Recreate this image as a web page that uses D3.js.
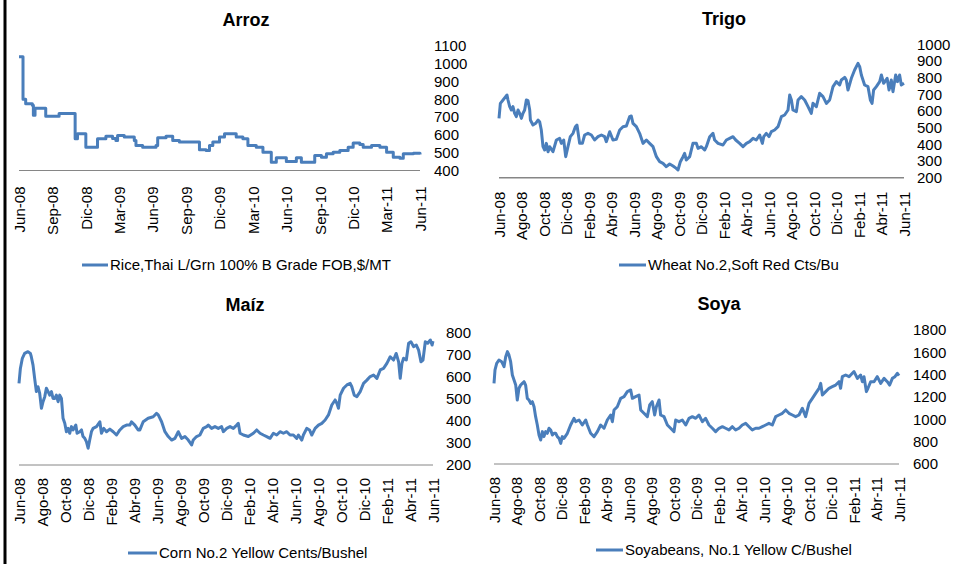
<!DOCTYPE html>
<html><head><meta charset="utf-8">
<script src="https://cdn.jsdelivr.net/npm/d3@7"></script>
<style>
html,body{margin:0;padding:0;background:#fff;}
svg{display:block;font-family:"Liberation Sans",Arial,sans-serif;}
</style></head>
<body>
<svg id="chart" width="953" height="564"></svg>
<script>
// ---- DATA (x = months since Jun-2008, y = price) ----
const titles = ["Arroz", "Trigo", "Maíz", "Soya"];
const legendLabels = [
  "Rice,Thai L/Grn 100% B Grade FOB,$/MT",
  "Wheat No.2,Soft Red Cts/Bu",
  "Corn No.2 Yellow Cents/Bushel",
  "Soyabeans, No.1 Yellow C/Bushel"
];
const quarterTicks = ["Jun-08","Sep-08","Dic-08","Mar-09","Jun-09","Sep-09","Dic-09","Mar-10","Jun-10","Sep-10","Dic-10","Mar-11","Jun-11"];
const bimonthTicks = ["Jun-08","Ago-08","Oct-08","Dic-08","Feb-09","Abr-09","Jun-09","Ago-09","Oct-09","Dic-09","Feb-10","Abr-10","Jun-10","Ago-10","Oct-10","Dic-10","Feb-11","Abr-11","Jun-11"];
const riceYTicks = [400,500,600,700,800,900,1000,1100];
const wheatYTicks = [200,300,400,500,600,700,800,900,1000];
const cornYTicks = [200,300,400,500,600,700,800];
const soyYTicks = [600,800,1000,1200,1400,1600,1800];

const riceData = [[0,1040],[0.36,800],[0.6,775],[1.2,767],[1.29,710],[1.44,750],[2.4,705],[3.6,720],[5.04,578],[5.25,607],[6.0,531],[7.05,578],[7.8,592],[8.4,580],[8.7,569],[8.85,597],[9.45,588],[10.35,569],[10.5,541],[11.1,531],[12.3,541],[12.45,584],[13.2,592],[13.8,569],[14.4,560],[16.2,516],[16.8,512],[17.1,540],[17.4,560],[18.0,588],[18.45,607],[19.5,588],[20.1,578],[20.55,541],[21.3,531],[21.9,503],[22.65,446],[23.1,471],[24.0,450],[24.9,471],[25.35,446],[26.55,484],[27.15,475],[27.6,494],[28.2,503],[28.8,512],[29.55,531],[30.0,554],[30.6,546],[30.9,531],[31.65,541],[32.4,531],[33.0,503],[33.6,475],[34.2,469],[34.5,494],[35.4,497],[36.0,490]];

const wheatData = [[0,556],[0.12,646],[0.36,666],[0.59,686],[0.71,696],[0.8,666],[0.95,626],[1.1,606],[1.24,626],[1.39,586],[1.54,566],[1.69,606],[1.84,586],[1.99,556],[2.13,586],[2.28,606],[2.43,666],[2.58,662],[2.73,606],[2.79,546],[3.02,516],[3.26,526],[3.47,546],[3.61,536],[3.76,486],[3.91,386],[4.06,366],[4.21,406],[4.36,356],[4.5,386],[4.8,356],[5.1,426],[5.39,436],[5.54,406],[5.75,426],[5.93,326],[6.13,386],[6.34,446],[6.58,466],[6.79,506],[6.93,516],[7.17,406],[7.41,406],[7.61,456],[7.91,466],[8.21,456],[8.5,426],[8.8,446],[9.1,456],[9.39,446],[9.54,416],[9.84,476],[10.13,426],[10.43,430],[10.73,486],[11.02,506],[11.32,510],[11.61,566],[11.76,570],[11.91,526],[12.21,506],[12.5,466],[12.8,406],[13.1,426],[13.39,406],[13.69,386],[13.99,326],[14.28,296],[14.58,286],[14.87,266],[15.17,282],[15.47,270],[15.76,256],[15.91,246],[16.12,296],[16.36,326],[16.5,346],[16.65,306],[16.95,326],[17.24,406],[17.54,406],[17.69,376],[17.99,386],[18.28,366],[18.43,386],[18.73,446],[19.02,466],[19.17,426],[19.47,406],[19.91,396],[20.21,426],[20.5,436],[20.8,446],[21.04,426],[21.39,406],[21.69,386],[21.99,406],[22.28,416],[22.58,436],[22.87,426],[23.17,456],[23.41,406],[23.53,446],[23.76,466],[24.0,446],[24.21,476],[24.5,486],[24.8,506],[25.1,566],[25.39,576],[25.69,606],[25.84,696],[25.99,666],[26.13,606],[26.43,596],[26.58,666],[26.87,686],[27.17,666],[27.47,626],[27.76,586],[27.91,646],[28.21,626],[28.5,706],[28.8,686],[29.1,646],[29.39,666],[29.69,746],[29.99,776],[30.28,756],[30.43,786],[30.73,802],[30.87,786],[31.02,726],[31.32,796],[31.61,846],[31.91,886],[32.06,866],[32.21,816],[32.5,756],[32.8,746],[33.01,666],[33.16,646],[33.3,726],[33.54,746],[33.84,776],[33.99,816],[34.19,766],[34.5,796],[34.67,726],[34.87,786],[35.02,716],[35.26,816],[35.41,776],[35.61,816],[35.76,756],[36.0,766]];

const cornData = [[0,570],[0.12,638],[0.29,684],[0.49,706],[0.78,714],[0.99,706],[1.07,691],[1.22,653],[1.36,593],[1.51,533],[1.65,555],[1.8,525],[1.95,457],[2.09,487],[2.24,510],[2.38,548],[2.53,533],[2.67,517],[2.82,533],[2.96,502],[3.11,502],[3.25,517],[3.4,487],[3.54,517],[3.69,502],[3.83,412],[3.98,389],[4.12,351],[4.27,366],[4.41,344],[4.56,374],[4.7,359],[4.94,381],[5.05,344],[5.28,351],[5.43,359],[5.57,329],[5.72,321],[5.86,306],[6.01,276],[6.15,313],[6.3,351],[6.44,366],[6.74,374],[7.03,396],[7.17,344],[7.37,366],[7.61,351],[7.9,363],[8.19,351],[8.48,336],[8.77,359],[9.06,374],[9.35,381],[9.64,381],[9.78,396],[10.07,381],[10.36,359],[10.51,359],[10.8,396],[11.23,412],[11.67,419],[11.96,434],[12.11,427],[12.4,396],[12.69,351],[12.98,329],[13.27,313],[13.56,321],[13.85,351],[14.14,321],[14.43,329],[14.72,313],[15.01,291],[15.15,313],[15.44,329],[15.73,336],[16.02,366],[16.32,374],[16.46,381],[16.75,366],[17.04,374],[17.33,366],[17.62,374],[17.77,351],[18.06,366],[18.35,374],[18.64,366],[18.93,381],[19.07,389],[19.22,344],[19.51,336],[19.94,329],[20.38,344],[20.67,359],[20.96,344],[21.25,336],[21.54,329],[21.83,321],[22.12,344],[22.41,336],[22.7,351],[22.99,344],[23.28,351],[23.57,336],[23.86,336],[24.15,321],[24.3,336],[24.59,313],[24.73,336],[25.02,366],[25.26,359],[25.46,336],[25.75,366],[26.04,381],[26.33,389],[26.62,404],[26.91,427],[27.2,472],[27.49,495],[27.64,480],[27.78,457],[27.93,517],[28.22,548],[28.51,563],[28.8,570],[28.94,555],[29.15,517],[29.38,510],[29.67,533],[29.96,570],[30.25,585],[30.54,601],[30.83,608],[31.12,593],[31.41,631],[31.7,638],[31.99,661],[32.28,691],[32.57,676],[32.8,706],[33.01,668],[33.15,593],[33.3,661],[33.44,684],[33.68,676],[33.88,752],[34.08,759],[34.31,737],[34.55,744],[34.75,721],[34.95,668],[35.13,676],[35.33,759],[35.54,752],[35.77,767],[35.92,744],[36.0,762]];

const soyData = [[0,1322],[0.09,1442],[0.24,1501],[0.44,1531],[0.68,1516],[0.89,1472],[1.04,1561],[1.19,1606],[1.33,1576],[1.48,1516],[1.63,1397],[1.78,1352],[1.93,1307],[2.07,1173],[2.22,1278],[2.37,1307],[2.52,1322],[2.67,1337],[2.81,1307],[2.96,1188],[3.11,1173],[3.26,1143],[3.41,1158],[3.56,1113],[3.7,1024],[3.85,949],[4.0,860],[4.15,815],[4.3,890],[4.44,845],[4.59,890],[4.74,875],[4.89,920],[5.04,905],[5.19,860],[5.33,875],[5.48,875],[5.63,845],[5.78,830],[5.93,785],[6.07,845],[6.22,830],[6.52,875],[6.81,949],[7.11,1009],[7.26,979],[7.56,994],[7.85,949],[8.15,994],[8.3,949],[8.59,875],[8.89,845],[9.19,890],[9.48,949],[9.78,920],[10.07,994],[10.37,1039],[10.52,979],[10.67,1084],[10.96,1113],[11.26,1188],[11.56,1203],[11.85,1248],[12.15,1263],[12.3,1188],[12.59,1203],[12.89,1218],[13.04,1084],[13.33,1054],[13.63,1024],[13.84,1128],[14.07,1158],[14.28,1039],[14.43,1113],[14.67,1173],[14.81,1039],[15.11,1024],[15.41,949],[15.7,920],[16.0,890],[16.15,994],[16.44,979],[16.74,994],[17.04,949],[17.33,1009],[17.63,1024],[17.93,1009],[18.22,1039],[18.52,979],[18.81,1009],[19.11,949],[19.41,920],[19.7,890],[20.0,920],[20.3,934],[20.59,920],[20.89,905],[21.19,934],[21.48,905],[21.78,920],[22.07,949],[22.37,964],[22.67,934],[22.96,905],[23.26,920],[23.56,920],[23.85,934],[24.15,949],[24.44,964],[24.74,949],[25.04,1024],[25.33,1039],[25.63,1054],[25.93,1084],[26.22,1054],[26.52,1039],[26.81,1024],[27.11,1039],[27.41,1099],[27.7,1024],[28.0,1143],[28.3,1188],[28.59,1233],[28.89,1278],[29.04,1322],[29.19,1218],[29.48,1248],[29.78,1278],[30.07,1292],[30.37,1307],[30.67,1337],[30.81,1278],[30.96,1382],[31.26,1397],[31.56,1382],[31.85,1412],[32.0,1427],[32.3,1367],[32.59,1397],[32.74,1337],[32.89,1382],[33.1,1248],[33.24,1278],[33.48,1337],[33.78,1337],[34.07,1382],[34.37,1322],[34.67,1367],[34.96,1337],[35.17,1307],[35.41,1367],[35.64,1382],[35.85,1412],[36.0,1391]];

// ---- LAYOUT ----
const panels = [
  {data: riceData, step: true, ticks: quarterTicks, tickStep: 3, yTicks: riceYTicks,
   x0: 19, x1: 420, yTop: 46, yBot: 170.5, yLabelX: 434, titleX: 246, titleY: 25.5,
   labelGap: 16, legX: 82, legW: 26, legY: 265, axisW: 1},
  {data: wheatData, step: false, ticks: bimonthTicks, tickStep: 2, yTicks: wheatYTicks,
   x0: 499, x1: 904, yTop: 44.3, yBot: 177.7, yLabelX: 917, titleX: 724, titleY: 24.5,
   labelGap: 14, legX: 619, legW: 27, legY: 265, axisW: 1.6},
  {data: cornData, step: false, ticks: bimonthTicks, tickStep: 2, yTicks: cornYTicks,
   x0: 19, x1: 433, yTop: 332.7, yBot: 465, yLabelX: 446, titleX: 245, titleY: 311,
   labelGap: 13, legX: 128, legW: 29, legY: 553, axisW: 1},
  {data: soyData, step: false, ticks: bimonthTicks, tickStep: 2, yTicks: soyYTicks,
   x0: 494, x1: 899, yTop: 330, yBot: 464, yLabelX: 913, titleX: 719, titleY: 310,
   labelGap: 13, legX: 596, legW: 27, legY: 550, axisW: 1}
];

const svg = d3.select("#chart");
const blue = "#4a7ebb";

// left border
svg.append("line").attr("x1", 5).attr("x2", 5).attr("y1", 0).attr("y2", 564)
  .attr("stroke", "#000").attr("stroke-width", 3);

panels.forEach((p, i) => {
  const y0 = p.yTicks[0], y1 = p.yTicks[p.yTicks.length - 1];
  const x = d3.scaleLinear().domain([0, 36]).range([p.x0, p.x1]);
  const y = d3.scaleLinear().domain([y0, y1]).range([p.yBot, p.yTop]);
  const g = svg.append("g");

  // title
  g.append("text").attr("x", p.titleX).attr("y", p.titleY)
    .attr("text-anchor", "middle").attr("font-weight", "bold").attr("font-size", 18)
    .text(titles[i]);

  // baseline
  g.append("line").attr("x1", p.x0).attr("x2", p.x1).attr("y1", y(y0)).attr("y2", y(y0))
    .attr("stroke", "#868686").attr("stroke-width", p.axisW);

  // y axis (right, labels only)
  const yAxis = d3.axisRight(y).tickValues(p.yTicks).tickSize(0).tickPadding(0).tickFormat(d3.format("d"));
  const ya = g.append("g").attr("transform", `translate(${p.yLabelX},0)`).call(yAxis);
  ya.select(".domain").remove();
  ya.selectAll("text").attr("font-size", 15).attr("fill", "#000")
    .attr("font-family", "Liberation Sans, Arial, sans-serif");

  // x axis (bottom, rotated labels)
  const tickVals = p.ticks.map((_, k) => k * p.tickStep);
  const xAxis = d3.axisBottom(x).tickValues(tickVals).tickSize(0).tickPadding(0)
    .tickFormat((d, k) => p.ticks[k]);
  const xa = g.append("g").attr("transform", `translate(0,${y(y0) + p.labelGap})`).call(xAxis);
  xa.select(".domain").remove();
  xa.selectAll("text").attr("font-size", 15).attr("fill", "#000")
    .attr("font-family", "Liberation Sans, Arial, sans-serif")
    .attr("text-anchor", "end").attr("transform", "rotate(-90)")
    .attr("x", 0).attr("y", 0).attr("dx", 0).attr("dy", "0.35em");

  // line
  const line = d3.line().x(d => x(d[0])).y(d => y(d[1]))
    .curve(p.step ? d3.curveStepAfter : d3.curveLinear);
  g.append("path").datum(p.data).attr("d", line).attr("fill", "none")
    .attr("stroke", blue).attr("stroke-width", 3).attr("stroke-linejoin", "round");

  // legend
  g.append("line").attr("x1", p.legX).attr("x2", p.legX + p.legW)
    .attr("y1", p.legY).attr("y2", p.legY).attr("stroke", blue).attr("stroke-width", 3);
  g.append("text").attr("x", p.legX + p.legW + 2).attr("y", p.legY).attr("dy", "0.35em")
    .attr("font-size", 15).attr("fill", "#000").text(legendLabels[i]);
});
</script>
</body></html>
